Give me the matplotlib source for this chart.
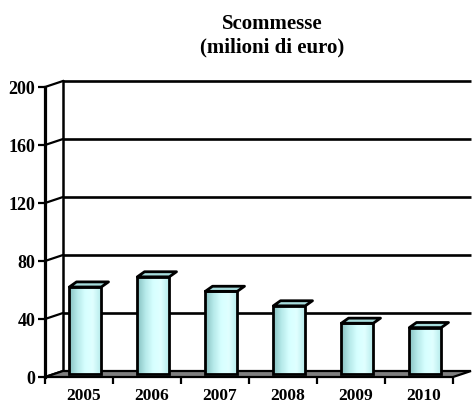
import numpy as np
import matplotlib.pyplot as plt
from matplotlib.patches import Polygon, Rectangle
from matplotlib.colors import LinearSegmentedColormap

years = ['2005', '2006', '2007', '2008', '2009', '2010']
values = [60, 67, 57, 47, 35, 32]
y_ticks = [0, 40, 80, 120, 160, 200]

# depth of the pseudo-3D box, in pixels (x, y)
DEPTH = (18, 6)
SERIF = 'Liberation Serif'

fig = plt.figure(figsize=(4.73, 4.08), dpi=100)
ax = fig.add_axes([45 / 473, 31 / 408, 408 / 473, 290 / 408])
ax.set_xlim(0, len(years))
ax.set_ylim(0, 200)
ax.set_facecolor('none')

# pixel -> data unit conversion for the depth shift
p0 = ax.transData.transform((0, 0))
p1 = ax.transData.transform((1, 1))
ddx = DEPTH[0] / (p1[0] - p0[0])
ddy = DEPTH[1] / (p1[1] - p0[1])
n = len(years)

for s in ['top', 'right', 'bottom']:
    ax.spines[s].set_visible(False)
ax.spines['left'].set_linewidth(2.3)
ax.spines['left'].set_zorder(6)

ax.set_yticks(y_ticks)
ax.set_yticklabels([str(t) for t in y_ticks], fontfamily=SERIF,
                   fontweight='bold', fontsize=13)
ax.tick_params(axis='y', length=5, width=1.6, pad=2)

ax.set_xticks(range(n + 1))
ax.set_xticklabels([])
ax.tick_params(axis='x', which='major', length=5, width=1.6, direction='out')
ax.set_xticks(np.arange(n) + 0.5 + ddx / 4, minor=True)
ax.set_xticklabels(years, minor=True, fontfamily=SERIF,
                   fontweight='bold', fontsize=12.5)
ax.tick_params(axis='x', which='minor', length=0, pad=8)

# back wall gridlines and left side wall
ax.hlines([t + ddy for t in y_ticks[1:]], ddx, n + ddx, colors='black',
          lw=1.9, clip_on=False, zorder=1)
ax.plot([ddx, ddx], [ddy, 200 + ddy], color='black', lw=1.8,
        clip_on=False, zorder=1)
for t in y_ticks:
    ax.plot([0, ddx], [t, t + ddy], color='black', lw=1.6,
            clip_on=False, zorder=1)

# floor
floor = Polygon([(0, 0), (n, 0), (n + ddx, ddy), (ddx, ddy)], closed=True,
                facecolor='#7f7f7f', edgecolor='black', lw=1.6,
                clip_on=False, zorder=2)
ax.add_patch(floor)

# cylinders
cmap = LinearSegmentedColormap.from_list(
    'cyl', ['#86c0c0', '#b4e8e8', '#d6ffff', '#e0ffff', '#b8ecec'])
grad = np.linspace(0, 1, 64).reshape(1, -1)
bw = 0.47
for i, v in enumerate(values):
    left = i + 0.5 - bw / 2 + ddx * 0.35
    y0 = ddy / 2
    top = v + ddy / 2
    body = Rectangle((left, y0), bw, v, facecolor='none',
                     edgecolor='black', lw=2.0, zorder=4, clip_on=False)
    ax.add_patch(body)
    im = ax.imshow(grad, cmap=cmap, aspect='auto', zorder=3,
                   extent=(left, left + bw, y0, top))
    im.set_clip_path(body)
    sx, sy = 0.4 * ddx, 0.85 * ddy
    cap = Polygon([(left, top), (left + sx, top + sy),
                   (left + bw + sx, top + sy), (left + bw, top)],
                  closed=True, facecolor='#a6dcdc', edgecolor='black',
                  lw=2.0, joinstyle='round', zorder=5, clip_on=False)
    ax.add_patch(cap)

ax.set_xlim(0, n)
ax.set_ylim(0, 200)

fig.text(272 / 473, 1 - 24 / 408, 'Scommesse', ha='center', va='center',
         fontfamily=SERIF, fontweight='bold', fontsize=15)
fig.text(272 / 473, 1 - 47 / 408, '(milioni di euro)', ha='center',
         va='center', fontfamily=SERIF, fontweight='bold', fontsize=15)

fig.savefig('out.png', dpi=100)
